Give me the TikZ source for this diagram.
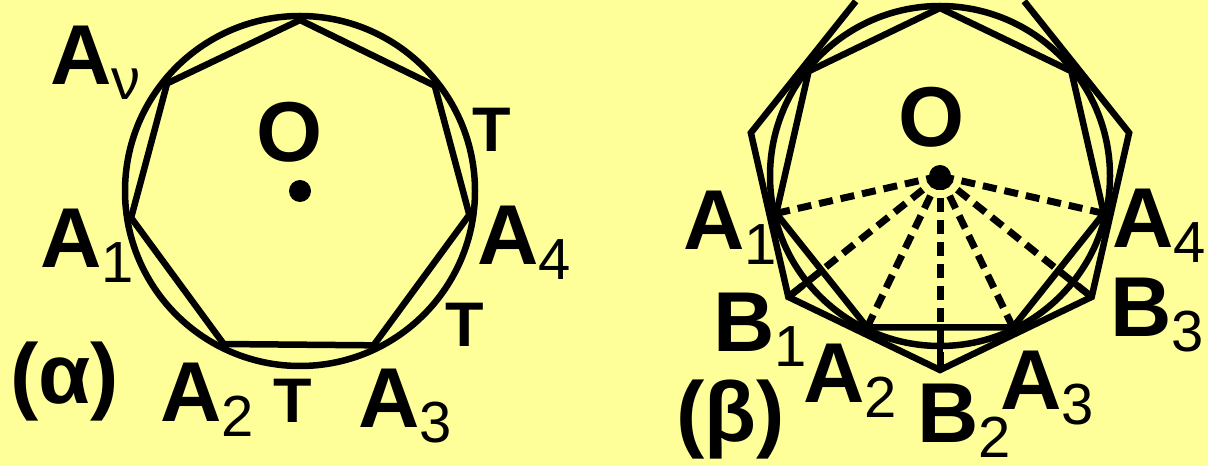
\documentclass[tikz,border=0pt]{standalone}
\usepackage{fontspec}
\setmainfont{Liberation Sans}
\definecolor{paper}{HTML}{FFFF99}

\tikzstyle{rim} = [
line width=6.5pt
]
\tikzstyle{ray} = [
line width=7pt,
dash pattern=on 14pt off 8pt
]
\tikzstyle{tag} = [
inner sep=0pt,
anchor=base west,
font=\fontsize{85}{90}\selectfont\bfseries
]
\tikzstyle{side} = [
inner sep=0pt,
anchor=base,
font=\fontsize{85}{90}\selectfont\bfseries
]
\tikzstyle{tee} = [
inner sep=0pt,
anchor=base,
font=\fontsize{63}{66}\selectfont\bfseries
]

\newcommand{\vname}[2]{#1\raisebox{-15pt}{\fontsize{58}{60}\selectfont\mdseries #2}}

\begin{document}
\begin{tikzpicture}[
x=1pt,
y=1pt
]

\useasboundingbox (0,0) rectangle (1208,466);
\fill[paper] (0,0) rectangle (1208,466);

% (a) inscribed polygon
\coordinate (lo) at (300,275);

\draw[rim] (lo) circle (175);

\foreach \ang [count=\k] in {-171,-116.5,-64.5,-8,38,90,141}
\coordinate (l\k) at ([shift={(\ang:171)}]lo);

\draw[rim] (l1) -- (l2) -- (l3) -- (l4) -- (l5) -- (l6) -- (l7) -- cycle;

\fill (lo) circle (11);

\node (lAv) [tag] at (50,381) {\vname{A}{ν}};
\node (lA1) [tag] at (40,198) {\vname{A}{1}};
\node (lA2) [tag] at (160,44) {\vname{A}{2}};
\node (lA3) [tag] at (358,38) {\vname{A}{3}};
\node (lA4) [tag] at (477,201) {\vname{A}{4}};
\node (lt1) [tee] at (293,43) {Τ};
\node (lt2) [tee] at (492,314) {Τ};
\node (lt3) [tee] at (465,119) {Τ};
\node (lO) [side] at (290,304) {O};
\node (lcap) [tag] at (10,62) {(α)};

% (b) inscribed and circumscribed polygons
\coordinate (ro) at (940,290);

\draw[rim] (ro) circle (170);

\foreach \k [evaluate=\k as \ang using -167.14+51.43*(\k-1),
evaluate=\k as \bng using -141.43+51.43*(\k-1)] in {1,...,7} {
\coordinate (a\k) at ([shift={(\ang:168)}]ro);
\coordinate (b\k) at ([shift={(\bng:194)}]ro);
\coordinate (p\k) at ([shift={(\bng:170)}]ro);
}

\draw[rim] (a1) -- (a2) -- (a3) -- (a4) -- (a5) -- (a6) -- (a7) -- cycle;

\draw[rim] (b6) -- (b7) -- (b1) -- (b2) -- (b3) -- (b4) -- (b5);

\foreach \t in {a1,b1,a2,b2,a3,b3,a4}
\draw[ray] (ro) -- (\t);

\foreach \k in {1,2,3}
\draw[rim] (p\k) -- (b\k);

\fill (ro) circle (11);

\node (rA1) [tag] at (683,216) {\vname{A}{1}};
\node (rB1) [tag] at (713,114) {\vname{B}{1}};
\node (rA2) [tag] at (803,63) {\vname{A}{2}};
\node (rB2) [tag] at (917,23) {\vname{B}{2}};
\node (rA3) [tag] at (1000,56) {\vname{A}{3}};
\node (rB3) [tag] at (1110,129) {\vname{B}{3}};
\node (rA4) [tag] at (1112,218) {\vname{A}{4}};
\node (rO) [side] at (932,319) {O};
\node (rcap) [tag] at (676,24) {(β)};

\end{tikzpicture}
\end{document}
